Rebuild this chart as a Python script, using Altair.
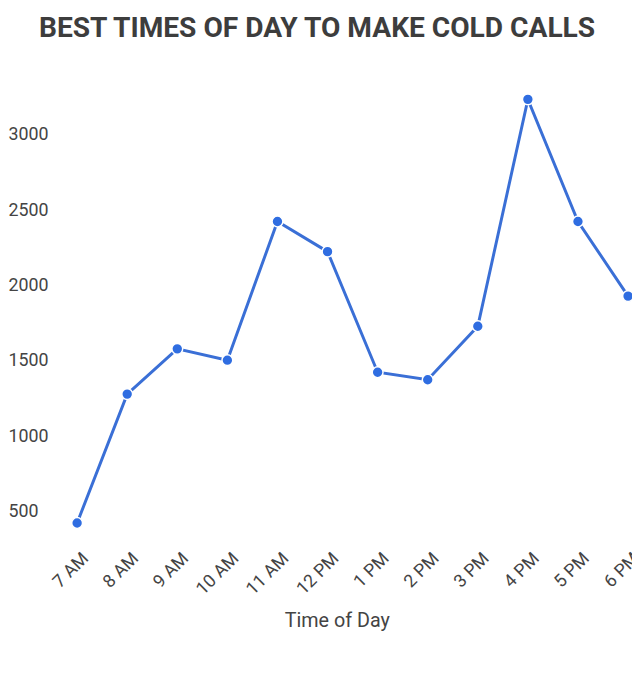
import altair as alt
import pandas as pd

times = ["7 AM", "8 AM", "9 AM", "10 AM", "11 AM", "12 PM",
         "1 PM", "2 PM", "3 PM", "4 PM", "5 PM", "6 PM"]
calls = [425, 1280, 1580, 1505, 2425, 2225, 1425, 1375, 1730, 3235, 2425, 1930]
y_ticks = [500, 1000, 1500, 2000, 2500, 3000]

df = pd.DataFrame({"time": times, "calls": calls})

LINE = "#3a6fd6"
TXT = "#444444"

x = alt.X("time:N", sort=times, title="Time of Day",
          scale=alt.Scale(range=[20, 578], padding=0),
          axis=alt.Axis(labelAngle=-45, labelFontSize=18, labelColor=TXT,
                        labelFont="Roboto", ticks=False, domain=False, grid=False,
                        labelPadding=12, labelOffset=2,
                        titleFont="Roboto", titleFontSize=20,
                        titleFontWeight="normal", titleColor=TXT,
                        titleX=283, titleY=90, titleAlign="center",
                        titleBaseline="alphabetic"))
y = alt.Y("calls:Q", title=None,
          scale=alt.Scale(domain=[330, 3408], nice=False, zero=False),
          axis=alt.Axis(values=y_ticks, format="d", labelFontSize=18, labelColor=TXT,
                        labelFont="Roboto", ticks=False, domain=False, grid=False,
                        labelAlign="left", labelPadding=50))

base = alt.Chart(df)
line = base.mark_line(color=LINE, strokeWidth=3).encode(x=x, y=y)
pts = base.mark_point(filled=True, color="#2f6de1", size=120, opacity=1,
                      stroke="white", strokeWidth=1.5).encode(x=x, y=y)

chart = (line + pts).properties(
    width=582, height=470,
    autosize=alt.AutoSizeParams(type="none"),
    padding={"left": 50, "top": 62, "right": 0, "bottom": 110},
    title=alt.TitleParams("BEST TIMES OF DAY TO MAKE COLD CALLS",
                          font="Roboto", fontSize=28.5, fontWeight="bold",
                          color="#3d3d3d", anchor="middle", dx=-28,
                          offset=32, dy=24, baseline="alphabetic"),
).configure(background="white").configure_view(strokeWidth=0, stroke=None)

chart.save("out.html", embed_options={"renderer": "svg", "actions": False})
